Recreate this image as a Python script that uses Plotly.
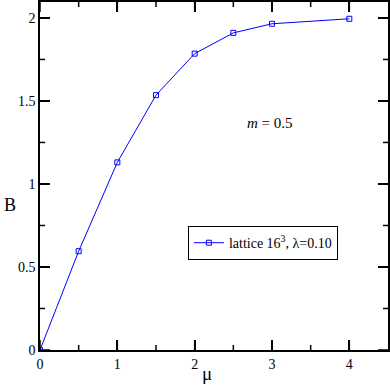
import plotly.graph_objects as go

mu = [0, 0.5, 1, 1.5, 2, 2.5, 3, 4]
B = [0.0, 0.595, 1.13, 1.535, 1.785, 1.91, 1.965, 1.995]
series_name = "lattice 16<sup>3</sup>, λ=0.10"
x_ticks = [0, 1, 2, 3, 4]
x_minor_ticks = [0.5, 1.5, 2.5, 3.5]
y_ticks = [0, 0.5, 1, 1.5, 2]
y_minor_ticks = [0.25, 0.75, 1.25, 1.75]
y_tick_labels = ["0", "0.5", "1", "1.5", "2"]

font = "Liberation Serif"
x_range = [0, 4.5]
y_range = [0, 2.096]

fig = go.Figure()
fig.add_trace(go.Scatter(
    x=mu, y=B, mode="lines+markers", name=series_name,
    line=dict(color="#0000ff", width=1),
    marker=dict(symbol="square-open", size=5, color="#0000ff", line=dict(width=1)),
))

main = dict(showline=True, linecolor="black", linewidth=1.5, mirror="ticks",
            ticks="inside", ticklen=10, tickwidth=1.5, tickcolor="black",
            showgrid=False, zeroline=False,
            tickfont=dict(family=font, size=14, color="black"))

fig.update_xaxes(range=x_range, tickmode="array", tickvals=x_ticks, **main)
fig.update_yaxes(range=y_range, tickmode="array", tickvals=y_ticks, ticktext=y_tick_labels, **main)

# inward tick marks on all four sides, positioned through the axes' own scales
plot_w, plot_h = 348.0, 348.0
tick_style = dict(color="black", width=1.5)
for vals, length in ((x_ticks, 10), (x_minor_ticks, 5)):
    for v in vals:
        fig.add_shape(type="line", xref="x", yref="y domain", x0=v, x1=v,
                      y0=0, y1=length / plot_h, line=tick_style, layer="above")
        fig.add_shape(type="line", xref="x", yref="y domain", x0=v, x1=v,
                      y0=1, y1=1 - length / plot_h, line=tick_style, layer="above")
for vals, length in ((y_ticks, 10), (y_minor_ticks, 5)):
    for v in vals:
        fig.add_shape(type="line", xref="x domain", yref="y", y0=v, y1=v,
                      x0=0, x1=length / plot_w, line=tick_style, layer="above")
        fig.add_shape(type="line", xref="x domain", yref="y", y0=v, y1=v,
                      x0=1, x1=1 - length / plot_w, line=tick_style, layer="above")

fig.add_annotation(
    x=2.97, y=1.367, xref="x", yref="y", showarrow=False, xanchor="center", yanchor="middle",
    text="<i>m</i> = 0.5", font=dict(family=font, size=15, color="black"),
)
fig.add_annotation(
    xref="paper", yref="paper", x=(207 - 40) / 348, y=-(373 - 350) / 348,
    xanchor="center", yanchor="middle",
    showarrow=False, text="μ", font=dict(family=font, size=19, color="black"),
)
fig.add_annotation(
    xref="paper", yref="paper", x=-(40 - 10) / 348, y=(350 - 205) / 348,
    xanchor="center", yanchor="middle",
    showarrow=False, text="B", font=dict(family=font, size=18, color="black"),
)

fig.update_layout(
    width=390, height=386,
    margin=dict(l=40, r=2, t=2, b=36, autoexpand=False),
    paper_bgcolor="white", plot_bgcolor="white",
    showlegend=True,
    legend=dict(
        x=0.425, y=0.356, xanchor="left", yanchor="top",
        bordercolor="black", borderwidth=1, bgcolor="white",
        font=dict(family=font, size=14, color="black"),
        itemwidth=30, tracegroupgap=0,
    ),
)

fig.write_html("out.html", config={"displayModeBar": False},
               post_script="document.body.style.margin='0';document.body.style.overflow='hidden';")
